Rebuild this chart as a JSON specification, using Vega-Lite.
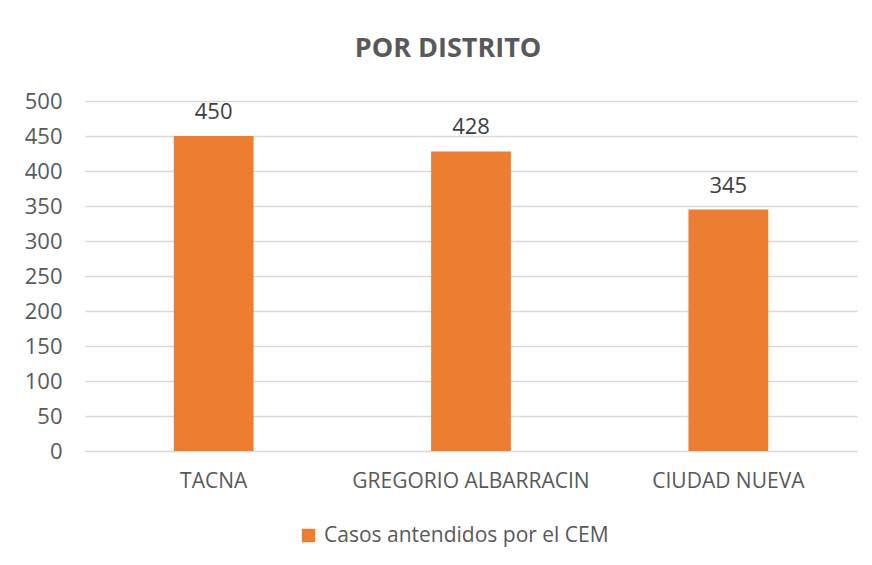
{
  "$schema": "https://vega.github.io/schema/vega-lite/v6.json",
  "autosize": {"type": "none"},
  "width": 772,
  "height": 350,
  "padding": {"left": 85, "top": 101, "right": 15, "bottom": 114},
  "background": "white",
  "config": {
    "view": {"stroke": null},
    "font": "Open Sans",
    "axis": {"labelColor": "#595959", "labelFont": "Open Sans"}
  },
  "title": {
    "text": "POR DISTRITO",
    "fontSize": 27,
    "fontWeight": "bold",
    "color": "#595959",
    "font": "Open Sans",
    "anchor": "middle",
    "dx": -23,
    "offset": 27
  },
  "data": {
    "values": [
      {"distrito": "TACNA", "casos": 450, "serie": "Casos antendidos por el CEM"},
      {"distrito": "GREGORIO ALBARRACIN", "casos": 428, "serie": "Casos antendidos por el CEM"},
      {"distrito": "CIUDAD NUEVA", "casos": 345, "serie": "Casos antendidos por el CEM"}
    ]
  },
  "encoding": {
    "x": {
      "field": "distrito",
      "type": "nominal",
      "sort": null,
      "scale": {"paddingInner": 0.69, "paddingOuter": 0.345},
      "axis": {"title": null, "labelAngle": 0, "labelFontSize": 21, "labelLimit": 0, "labelPadding": 19, "domain": false, "ticks": false, "grid": false}
    },
    "y": {
      "field": "casos",
      "type": "quantitative",
      "scale": {"domain": [0, 500]},
      "axis": {"title": null, "values": [0, 50, 100, 150, 200, 250, 300, 350, 400, 450, 500], "labelFontSize": 22, "labelPadding": 23, "domain": false, "ticks": false, "gridColor": "#D9D9D9", "gridWidth": 1.3}
    }
  },
  "layer": [
    {
      "mark": {"type": "bar", "color": "#ED7D31"},
      "encoding": {
        "color": {
          "field": "serie",
          "type": "nominal",
          "scale": {"range": ["#ED7D31"]},
          "legend": {
            "title": null,
            "orient": "none",
            "legendX": 213,
            "legendY": 424,
            "padding": 0,
            "symbolType": "square",
            "symbolSize": 180,
            "labelFontSize": 21,
            "labelLimit": 0,
            "labelColor": "#595959",
            "labelFont": "Open Sans",
            "labelOffset": 5,
            "symbolStrokeWidth": 0
          }
        }
      }
    },
    {
      "mark": {"type": "text", "dy": -17, "fontSize": 22, "color": "#404040", "baseline": "alphabetic"},
      "encoding": {"text": {"field": "casos", "type": "quantitative"}}
    }
  ]
}
